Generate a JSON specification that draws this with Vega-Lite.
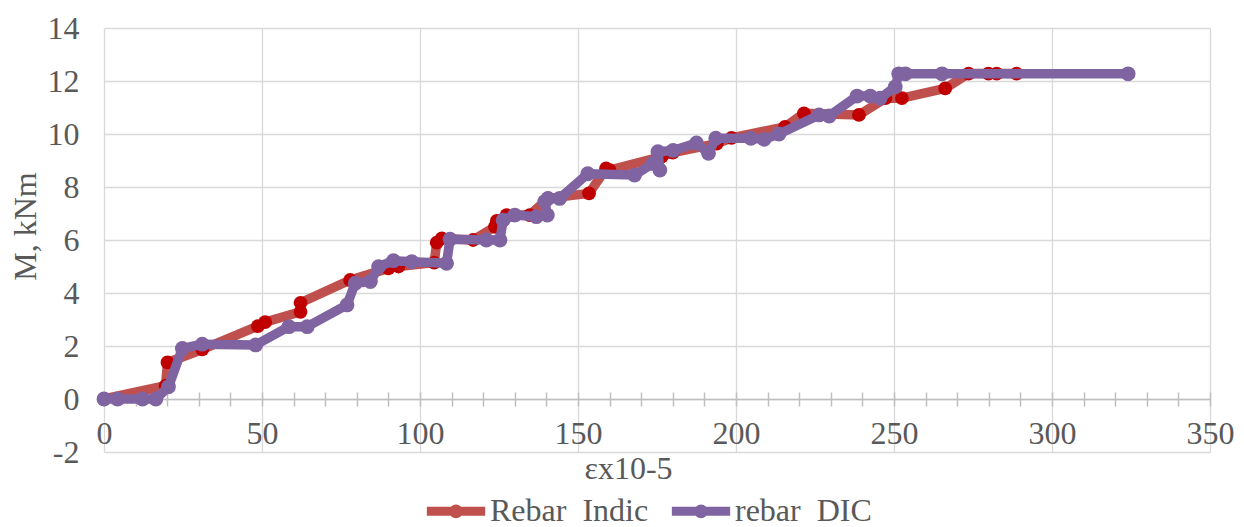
{
  "$schema": "https://vega.github.io/schema/vega-lite/v6.json",
  "width": 1106,
  "height": 424,
  "autosize": {"type": "none"},
  "padding": {"left": 104, "top": 28, "right": 34, "bottom": 75},
  "background": "white",
  "config": {"view": {"stroke": null}, "font": "Liberation Serif"},
  "data": {"values": [
    {"s": "Rebar  Indic", "o": 1, "x": 0, "y": 0},
    {"s": "Rebar  Indic", "o": 2, "x": 19.5, "y": 0.5},
    {"s": "Rebar  Indic", "o": 3, "x": 20.1, "y": 1.38},
    {"s": "Rebar  Indic", "o": 4, "x": 31.1, "y": 1.87},
    {"s": "Rebar  Indic", "o": 5, "x": 48.7, "y": 2.75},
    {"s": "Rebar  Indic", "o": 6, "x": 51, "y": 2.9},
    {"s": "Rebar  Indic", "o": 7, "x": 62.2, "y": 3.29},
    {"s": "Rebar  Indic", "o": 8, "x": 62.2, "y": 3.63},
    {"s": "Rebar  Indic", "o": 9, "x": 77.9, "y": 4.49},
    {"s": "Rebar  Indic", "o": 10, "x": 90, "y": 4.93},
    {"s": "Rebar  Indic", "o": 11, "x": 93.2, "y": 5.0},
    {"s": "Rebar  Indic", "o": 12, "x": 104.5, "y": 5.15},
    {"s": "Rebar  Indic", "o": 13, "x": 105.3, "y": 5.9},
    {"s": "Rebar  Indic", "o": 14, "x": 106.9, "y": 6.06},
    {"s": "Rebar  Indic", "o": 15, "x": 116.8, "y": 6.0},
    {"s": "Rebar  Indic", "o": 16, "x": 123.7, "y": 6.5},
    {"s": "Rebar  Indic", "o": 17, "x": 124.3, "y": 6.72},
    {"s": "Rebar  Indic", "o": 18, "x": 127.4, "y": 6.94},
    {"s": "Rebar  Indic", "o": 19, "x": 134.7, "y": 6.94},
    {"s": "Rebar  Indic", "o": 20, "x": 140.5, "y": 7.57},
    {"s": "Rebar  Indic", "o": 21, "x": 153.5, "y": 7.76},
    {"s": "Rebar  Indic", "o": 22, "x": 158.9, "y": 8.7},
    {"s": "Rebar  Indic", "o": 23, "x": 160, "y": 8.64},
    {"s": "Rebar  Indic", "o": 24, "x": 176.5, "y": 9.15},
    {"s": "Rebar  Indic", "o": 25, "x": 180, "y": 9.3},
    {"s": "Rebar  Indic", "o": 26, "x": 193.9, "y": 9.64},
    {"s": "Rebar  Indic", "o": 27, "x": 198.6, "y": 9.85},
    {"s": "Rebar  Indic", "o": 28, "x": 215.5, "y": 10.27},
    {"s": "Rebar  Indic", "o": 29, "x": 221.5, "y": 10.78},
    {"s": "Rebar  Indic", "o": 30, "x": 238.9, "y": 10.72},
    {"s": "Rebar  Indic", "o": 31, "x": 247.3, "y": 11.35},
    {"s": "Rebar  Indic", "o": 32, "x": 252.5, "y": 11.35},
    {"s": "Rebar  Indic", "o": 33, "x": 266.2, "y": 11.72},
    {"s": "Rebar  Indic", "o": 34, "x": 273.6, "y": 12.28},
    {"s": "Rebar  Indic", "o": 35, "x": 279.9, "y": 12.28},
    {"s": "Rebar  Indic", "o": 36, "x": 282.5, "y": 12.28},
    {"s": "Rebar  Indic", "o": 37, "x": 288.8, "y": 12.28},
    {"s": "rebar  DIC", "o": 1, "x": 0, "y": 0},
    {"s": "rebar  DIC", "o": 2, "x": 4.3, "y": 0},
    {"s": "rebar  DIC", "o": 3, "x": 12.2, "y": 0},
    {"s": "rebar  DIC", "o": 4, "x": 16.4, "y": 0},
    {"s": "rebar  DIC", "o": 5, "x": 20.4, "y": 0.46},
    {"s": "rebar  DIC", "o": 6, "x": 24.8, "y": 1.91},
    {"s": "rebar  DIC", "o": 7, "x": 31.1, "y": 2.07},
    {"s": "rebar  DIC", "o": 8, "x": 48, "y": 2.04},
    {"s": "rebar  DIC", "o": 9, "x": 58.5, "y": 2.73},
    {"s": "rebar  DIC", "o": 10, "x": 64.3, "y": 2.73},
    {"s": "rebar  DIC", "o": 11, "x": 76.9, "y": 3.55},
    {"s": "rebar  DIC", "o": 12, "x": 79.5, "y": 4.37},
    {"s": "rebar  DIC", "o": 13, "x": 84.3, "y": 4.43},
    {"s": "rebar  DIC", "o": 14, "x": 86.9, "y": 4.99},
    {"s": "rebar  DIC", "o": 15, "x": 91.6, "y": 5.22},
    {"s": "rebar  DIC", "o": 16, "x": 97.4, "y": 5.18},
    {"s": "rebar  DIC", "o": 17, "x": 108.4, "y": 5.12},
    {"s": "rebar  DIC", "o": 18, "x": 109.5, "y": 6.03},
    {"s": "rebar  DIC", "o": 19, "x": 121, "y": 6.0},
    {"s": "rebar  DIC", "o": 20, "x": 125.3, "y": 6.0},
    {"s": "rebar  DIC", "o": 21, "x": 126.3, "y": 6.75},
    {"s": "rebar  DIC", "o": 22, "x": 130, "y": 6.94},
    {"s": "rebar  DIC", "o": 23, "x": 136.8, "y": 6.88},
    {"s": "rebar  DIC", "o": 24, "x": 140.3, "y": 6.94},
    {"s": "rebar  DIC", "o": 25, "x": 139.5, "y": 7.45},
    {"s": "rebar  DIC", "o": 26, "x": 140.5, "y": 7.57},
    {"s": "rebar  DIC", "o": 27, "x": 144.2, "y": 7.57},
    {"s": "rebar  DIC", "o": 28, "x": 153.1, "y": 8.5},
    {"s": "rebar  DIC", "o": 29, "x": 167.9, "y": 8.45},
    {"s": "rebar  DIC", "o": 30, "x": 173.7, "y": 8.89},
    {"s": "rebar  DIC", "o": 31, "x": 175.9, "y": 8.64},
    {"s": "rebar  DIC", "o": 32, "x": 175.3, "y": 9.33},
    {"s": "rebar  DIC", "o": 33, "x": 180.1, "y": 9.38},
    {"s": "rebar  DIC", "o": 34, "x": 187.5, "y": 9.66},
    {"s": "rebar  DIC", "o": 35, "x": 191.3, "y": 9.27},
    {"s": "rebar  DIC", "o": 36, "x": 193.6, "y": 9.84},
    {"s": "rebar  DIC", "o": 37, "x": 204.7, "y": 9.84},
    {"s": "rebar  DIC", "o": 38, "x": 208.9, "y": 9.8},
    {"s": "rebar  DIC", "o": 39, "x": 213.6, "y": 10.0},
    {"s": "rebar  DIC", "o": 40, "x": 226.3, "y": 10.72},
    {"s": "rebar  DIC", "o": 41, "x": 229.5, "y": 10.68},
    {"s": "rebar  DIC", "o": 42, "x": 238.3, "y": 11.43},
    {"s": "rebar  DIC", "o": 43, "x": 242.5, "y": 11.43},
    {"s": "rebar  DIC", "o": 44, "x": 245.6, "y": 11.35},
    {"s": "rebar  DIC", "o": 45, "x": 250.4, "y": 11.78},
    {"s": "rebar  DIC", "o": 46, "x": 251.5, "y": 12.27},
    {"s": "rebar  DIC", "o": 47, "x": 253.6, "y": 12.27},
    {"s": "rebar  DIC", "o": 48, "x": 265.2, "y": 12.27},
    {"s": "rebar  DIC", "o": 49, "x": 324.1, "y": 12.27}
  ]},
  "resolve": {"axis": {"x": "independent"}},
  "layer": [
    {
      "transform": [{"filter": "datum.s == 'Rebar  Indic'"}],
      "mark": {"type": "line", "strokeWidth": 9.5, "strokeJoin": "round", "strokeCap": "round"},
      "encoding": {
        "x": {"field": "x", "type": "quantitative", "scale": {"domain": [0, 350], "nice": false, "zero": false},
          "axis": {"orient": "bottom", "values": [0, 50, 100, 150, 200, 250, 300, 350], "grid": true, "gridColor": "#D9D9D9", "gridWidth": 1.3,
            "labels": false, "ticks": false, "domain": false,
            "title": "εx10-5", "titleFont": "Liberation Serif", "titleFontSize": 32, "titleFontWeight": "normal", "titleColor": "#595959",
            "titleX": 524, "titleY": 16, "titleBaseline": "middle", "titleAlign": "center"}},
        "y": {"field": "y", "type": "quantitative", "scale": {"domain": [-2, 14], "nice": false, "zero": false},
          "axis": {"values": [-2, 0, 2, 4, 6, 8, 10, 12, 14], "grid": true, "gridColor": "#D9D9D9", "gridWidth": 1.3,
            "domain": false, "ticks": false, "labelExpr": "'' + datum.value",
            "labelFont": "Liberation Serif", "labelFontSize": 32, "labelColor": "#595959", "labelPadding": 25,
            "title": "M, kNm", "titleFont": "Liberation Serif", "titleFontSize": 32, "titleFontWeight": "normal", "titleColor": "#595959",
            "titleX": -79, "titleY": 198, "titleAngle": -90, "titleBaseline": "middle", "titleAlign": "center"}},
        "order": {"field": "o"},
        "color": {"field": "s", "type": "nominal",
          "scale": {"domain": ["Rebar  Indic", "rebar  DIC"], "range": ["#C0504D", "#8064A2"]},
          "legend": {"orient": "none", "legendX": 318, "legendY": 449, "direction": "horizontal", "title": null,
            "labelExpr": "replace(datum.label, regexp(' ', 'g'), '\u00a0')",
            "labelFont": "Liberation Serif", "labelFontSize": 32, "labelColor": "#595959", "labelOffset": 0, "columnPadding": 4, "padding": 0,
            "symbolType": "M-1,0L1,0M0.08,0A0.08,0.08,0,1,1,-0.08,0A0.08,0.08,0,1,1,0.08,0", "symbolSize": 3400, "symbolStrokeWidth": 9}}
      }
    },
    {
      "transform": [{"filter": "datum.s == 'Rebar  Indic'"}],
      "mark": {"type": "circle", "color": "#C00000", "opacity": 1, "size": 190},
      "encoding": {
        "x": {"field": "x", "type": "quantitative",
          "axis": {"orient": "bottom", "offset": -53, "values": [0, 10, 20, 30, 40, 50, 60, 70, 80, 90, 100, 110, 120, 130, 140, 150, 160, 170, 180, 190, 200, 210, 220, 230, 240, 250, 260, 270, 280, 290, 300, 310, 320, 330, 340, 350],
            "grid": false, "domain": true, "domainColor": "#BFBFBF", "domainWidth": 1.5, "ticks": true, "tickColor": "#BFBFBF", "tickSize": 7, "tickWidth": 1.5,
            "labelExpr": "datum.value % 50 == 0 ? datum.label : ''", "labelOverlap": false, "labelFlush": false,
            "labelFont": "Liberation Serif", "labelFontSize": 32, "labelColor": "#595959", "labelPadding": 12, "title": null}},
        "y": {"field": "y", "type": "quantitative"}
      }
    },
    {
      "transform": [{"filter": "datum.s == 'rebar  DIC'"}],
      "mark": {"type": "line", "strokeWidth": 9.5, "strokeJoin": "round", "strokeCap": "round"},
      "encoding": {
        "x": {"field": "x", "type": "quantitative",
          "axis": {"orient": "top", "offset": -371, "values": [0, 10, 20, 30, 40, 50, 60, 70, 80, 90, 100, 110, 120, 130, 140, 150, 160, 170, 180, 190, 200, 210, 220, 230, 240, 250, 260, 270, 280, 290, 300, 310, 320, 330, 340, 350],
            "grid": false, "domain": false, "labels": false, "ticks": true, "tickColor": "#BFBFBF", "tickSize": 7, "tickWidth": 1.5, "title": null}},
        "y": {"field": "y", "type": "quantitative"},
        "order": {"field": "o"},
        "color": {"field": "s", "type": "nominal"}
      }
    },
    {
      "transform": [{"filter": "datum.s == 'rebar  DIC'"}],
      "mark": {"type": "circle", "color": "#8064A2", "opacity": 1, "size": 220},
      "encoding": {
        "x": {"field": "x", "type": "quantitative", "axis": null},
        "y": {"field": "y", "type": "quantitative"}
      }
    }
  ]
}
